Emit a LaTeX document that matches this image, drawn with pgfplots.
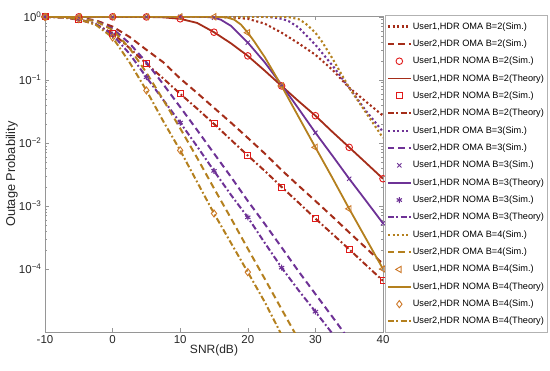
\documentclass[border=0pt]{standalone}
\usepackage{pgfplots}
\pgfplotsset{compat=1.18}
\usepackage{fontspec}
\setmainfont{Liberation Sans}
\definecolor{cA}{RGB}{165,45,25}
\definecolor{cAm}{RGB}{225,25,25}
\definecolor{cB}{RGB}{110,50,150}
\definecolor{cC}{RGB}{180,128,30}
\definecolor{cCm}{RGB}{205,120,40}
\definecolor{axgray}{RGB}{150,150,150}
\tikzset{
  dotl/.style={line width=2.1pt, dash pattern=on 2.1pt off 2.5pt},
  dashl/.style={line width=2pt, dash pattern=on 6.5pt off 4pt},
  dashdotl/.style={line width=2pt, dash pattern=on 6pt off 2.5pt on 1.8pt off 2.5pt},
  solidl/.style={line width=1.8pt},
}
\begin{document}
\begin{tikzpicture}
\begin{axis}[name=ax,
  width=338pt, height=316pt, scale only axis,
  xmin=-10, xmax=40, ymin=1e-5, ymax=1.03, ymode=log,
  xtick={-10,0,10,20,30,40}, xticklabels={-10,0,10,20,30,40},
  ytick={1e-4,1e-3,1e-2,1e-1,1},
  yticklabels={10\textsuperscript{−4},10\textsuperscript{−3},10\textsuperscript{−2},10\textsuperscript{−1},10\textsuperscript{0}},
  tick align=inside, major tick length=4pt, minor tick length=2pt,
  tick style={axgray, line width=0.5pt},
  axis line style={axgray, line width=0.6pt},
  ticklabel style={font=\fontsize{11.5}{12}\selectfont, text=black!85},
  xlabel={SNR(dB)}, ylabel={Outage Probability},
  every axis x label/.style={at={(axis description cs:0.5,-0.057)}, anchor=center, font=\fontsize{12}{13}\selectfont, text=black!85},
  every axis y label/.style={at={(axis description cs:-0.098,0.5)}, rotate=90, anchor=center, font=\fontsize{12.8}{14}\selectfont, text=black!85},
  legend image code/.code={\draw[mark repeat=2,mark phase=2,#1] plot coordinates {(0cm,0cm) (0.4cm,0cm) (0.8cm,0cm)};},
  legend cell align=left,
  legend style={at={(1.005,0.5)}, anchor=west, draw=gray!60, fill=white,
    font=\fontsize{9.2}{10}\selectfont, inner xsep=2pt, inner ysep=5pt,
    nodes={inner sep=1pt, outer sep=0pt, text height=7.5pt, text depth=2.5pt},
    row sep=5.35pt},
]
% ---------------- B = 2 ----------------
\addplot[cA, dotl] coordinates {(-10,1)(0,1)(10,1)(12.5,0.998)(15,0.995)(17.5,0.98)(20,0.93)(22.5,0.78)(25,0.56)(27.5,0.38)(30,0.25)(32.5,0.145)(35,0.075)(37.5,0.045)(40,0.027)};
\addlegendentry{User1,HDR OMA B=2(Sim.)}
\addplot[cA, dashl] coordinates {(-10,1)(-7.5,0.99)(-5,0.97)(-2.5,0.88)(0,0.7)(2.5,0.48)(5,0.3)(7.5,0.19)(10,0.105)(12.5,0.062)(15,0.036)(17.5,0.021)(20,0.012)(22.5,0.0068)(25,0.0037)(27.5,0.0021)(30,0.0012)(32.5,6.8e-4)(35,3.8e-4)(37.5,2.15e-4)(40,1.2e-4)};
\addlegendentry{User2,HDR OMA B=2(Sim.)}
\addplot[cAm, only marks, mark=o, mark size=3.3pt, line width=0.9pt] coordinates {(-10,1)(-5,1)(0,1)(5,0.995)(10,0.93)(15,0.57)(20,0.24)(25,0.08)(30,0.027)(35,0.0085)(40,0.0027)};
\addlegendentry{User1,HDR NOMA B=2(Sim.)}
\addplot[cA, solidl] coordinates {(-10,1)(0,1)(5,0.995)(7.5,0.98)(10,0.93)(12.5,0.8)(15,0.57)(17.5,0.38)(20,0.24)(22.5,0.14)(25,0.08)(27.5,0.046)(30,0.027)(32.5,0.015)(35,0.0085)(37.5,0.0048)(40,0.0027)};
\addlegendentry{User1,HDR NOMA B=2(Theory)}
\addplot[cAm, only marks, mark=square, mark size=3pt, line width=0.9pt] coordinates {(-10,0.995)(-5,0.9)(0,0.55)(5,0.18)(10,0.06)(15,0.02)(20,0.0063)(25,0.002)(30,6.3e-4)(35,2.05e-4)(40,6.5e-5)};
\addlegendentry{User2,HDR NOMA B=2(Sim.)}
\addplot[cA, dashdotl] coordinates {(-10,0.995)(-7.5,0.98)(-5,0.9)(-2.5,0.76)(0,0.55)(2.5,0.32)(5,0.18)(7.5,0.105)(10,0.06)(12.5,0.035)(15,0.02)(17.5,0.0112)(20,0.0063)(22.5,0.0036)(25,0.002)(27.5,0.00113)(30,6.3e-4)(32.5,3.6e-4)(35,2.05e-4)(37.5,1.15e-4)(40,6.5e-5)};
\addlegendentry{User2,HDR NOMA B=2(Theory)}
% ---------------- B = 3 ----------------
\addplot[cB, dotl] coordinates {(-10,1)(0,1)(10,1)(20,1)(22.5,0.995)(24,0.97)(25,0.93)(26,0.86)(27.5,0.68)(30,0.36)(32.5,0.17)(35,0.075)(37.5,0.032)(40,0.015)};
\addlegendentry{User1,HDR OMA B=3(Sim.)}
\addplot[cB, dashl] coordinates {(-10,1)(-7.5,0.99)(-5,0.96)(-2.5,0.86)(0,0.65)(2.5,0.38)(5,0.19)(7.5,0.085)(10,0.037)(12.5,0.016)(15,0.0068)(17.5,0.0029)(20,0.0012)(22.5,5.2e-4)(25,2.2e-4)(27.5,9.2e-5)(30,4e-5)(32.5,1.75e-5)(35,7.5e-6)};
\addlegendentry{User2,HDR OMA B=3(Sim.)}
\addplot[cB, only marks, mark=x, mark size=3pt, line width=0.9pt] coordinates {(-10,1)(-5,1)(0,1)(5,1)(10,1)(15,0.97)(20,0.39)(25,0.083)(30,0.0145)(35,0.0027)(40,5.3e-4)};
\addlegendentry{User1,HDR NOMA B=3(Sim.)}
\addplot[cB, solidl] coordinates {(-10,1)(0,1)(10,1)(12.5,0.999)(14,0.99)(15,0.97)(16,0.9)(17.5,0.72)(20,0.39)(22.5,0.19)(25,0.083)(27.5,0.035)(30,0.0145)(32.5,0.0063)(35,0.0027)(37.5,0.0012)(40,5.3e-4)};
\addlegendentry{User1,HDR NOMA B=3(Theory)}
\addplot[cB, only marks, mark=asterisk, mark size=3pt, line width=1.1pt] coordinates {(-10,0.995)(-5,0.92)(0,0.52)(5,0.11)(10,0.021)(15,0.0036)(20,6.6e-4)(25,1.05e-4)(30,2.1e-5)};
\addlegendentry{User2,HDR NOMA B=3(Sim.)}
\addplot[cB, dashdotl] coordinates {(-10,0.995)(-7.5,0.98)(-5,0.92)(-2.5,0.77)(0,0.52)(2.5,0.26)(5,0.11)(7.5,0.048)(10,0.021)(12.5,0.0088)(15,0.0036)(17.5,0.0015)(20,6.6e-4)(22.5,2.6e-4)(25,1.05e-4)(27.5,4.6e-5)(30,2.1e-5)(32.5,9.5e-6)};
\addlegendentry{User2,HDR NOMA B=3(Theory)}
% ---------------- B = 4 ----------------
\addplot[cC, dotl] coordinates {(-10,1)(0,1)(10,1)(20,1)(25,1)(26,0.99)(27.5,0.92)(28.5,0.79)(30,0.56)(31,0.4)(32.5,0.22)(35,0.075)(37.5,0.03)(40,0.012)};
\addlegendentry{User1,HDR OMA B=4(Sim.)}
\addplot[cC, dashl] coordinates {(-10,1)(-7.5,0.99)(-5,0.96)(-2.5,0.85)(0,0.62)(2.5,0.32)(5,0.13)(7.5,0.048)(10,0.017)(12.5,0.0058)(15,0.0019)(17.5,6.4e-4)(20,2.1e-4)(22.5,7e-5)(25,2.3e-5)(27.5,7.6e-6)};
\addlegendentry{User2,HDR OMA B=4(Sim.)}
\addplot[cCm, only marks, mark=triangle, mark size=3.6pt, mark options={rotate=90}, line width=0.9pt] coordinates {(-10,1)(-5,1)(0,1)(5,1)(10,1)(15,1)(20,0.56)(25,0.08)(30,0.0085)(35,9e-4)(40,1e-4)};
\addlegendentry{User1,HDR NOMA B=4(Sim.)}
\addplot[cC, solidl] coordinates {(-10,1)(0,1)(10,1)(15,1)(16,0.995)(17,0.97)(18,0.9)(19,0.75)(20,0.56)(21,0.4)(22.5,0.23)(25,0.08)(27.5,0.026)(30,0.0085)(32.5,0.0028)(35,9e-4)(37.5,3e-4)(40,1e-4)};
\addlegendentry{User1,HDR NOMA B=4(Theory)}
\addplot[cCm, only marks, mark=diamond, mark size=3.6pt, line width=0.9pt] coordinates {(-10,0.995)(-5,0.92)(0,0.47)(5,0.068)(10,0.0076)(15,7.6e-4)(20,8.9e-5)};
\addlegendentry{User2,HDR NOMA B=4(Sim.)}
\addplot[cC, dashdotl] coordinates {(-10,0.995)(-7.5,0.98)(-5,0.92)(-2.5,0.75)(0,0.47)(2.5,0.19)(5,0.068)(7.5,0.022)(10,0.0076)(12.5,0.0024)(15,7.6e-4)(17.5,2.6e-4)(20,8.9e-5)(22.5,3e-5)(25,9e-6)};
\addlegendentry{User2,HDR NOMA B=4(Theory)}
\end{axis}
\pgfresetboundingbox
\path ([shift={(-45pt,-38pt)}]ax.south west) rectangle ([shift={(167pt,16pt)}]ax.north east);
\end{tikzpicture}
\end{document}
